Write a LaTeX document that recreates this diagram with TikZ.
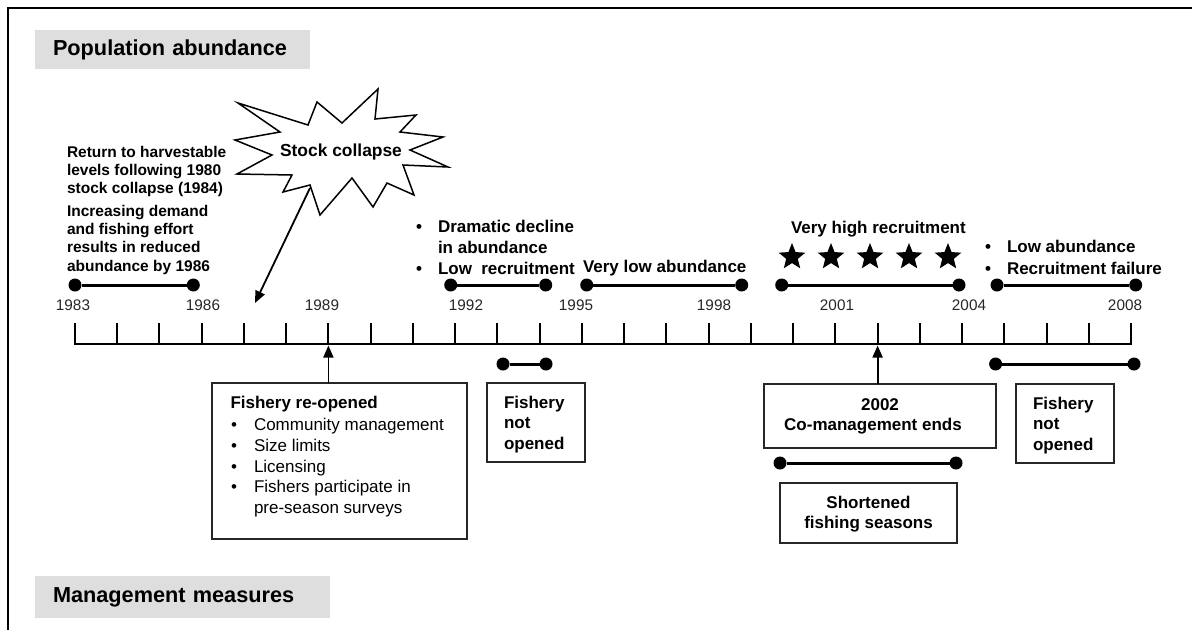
\documentclass[tikz,border=0pt]{standalone}
\usepackage{fontspec}
\setmainfont{Liberation Sans}
\usetikzlibrary{arrows.meta,shapes.geometric}
\definecolor{hdrgray}{RGB}{222,222,222}
\begin{document}
\begin{tikzpicture}[x=1pt,y=-1pt,
  every node/.style={inner sep=0pt, outer sep=0pt},
  hdr/.style={fill=hdrgray, anchor=north west, align=left, inner xsep=18pt,
    font=\fontsize{21.7}{25}\selectfont\bfseries},
  small/.style={font=\fontsize{15.5}{18.3}\selectfont\bfseries, align=left},
  txt/.style={font=\fontsize{17}{20.5}\selectfont\bfseries, align=left},
  reg/.style={font=\fontsize{17}{20.8}\selectfont, align=left},
  yr/.style={font=\fontsize{15.3}{18}\selectfont, anchor=base, text=black!85},
  mbox/.style={draw=black!85, line width=1.2pt, fill=white, anchor=north west},
  bdot/.style={circle, fill=black, minimum size=13pt, inner sep=0pt},
  bar/.style={line width=3pt},
  arr/.style={line width=1.8pt, -{Triangle[length=12pt,width=10pt]}},
  starshape/.style={star, star points=5, star point ratio=2.3, fill=black, minimum size=28pt, inner sep=0pt}
]
\useasboundingbox (0,0) rectangle (1192,630);
% frame
\draw[line width=2pt] (8,630) -- (8,8) -- (1192,8);

% headers
\node[hdr, minimum width=275pt, minimum height=39pt, text width=239pt] (popH) at (35,30) {Population abundance};
\node[hdr, minimum width=295pt, minimum height=42pt, text width=259pt] (mgmtH) at (35,576) {Management measures};

% starburst
\draw[line width=1.5pt, line join=miter, fill=white]
  (238,103) -- (308,125) -- (317,102) -- (342,123) -- (378,89) -- (375,119)
  -- (416,115) -- (400,132) -- (443,137) -- (410,150) -- (448,167) -- (403,165)
  -- (414,195) -- (387,183) -- (373,207) -- (352,178) -- (320,215) -- (310,185)
  -- (283,192) -- (292,175) -- (237,174) -- (272,155) -- (235,140) -- (280,132) -- cycle;
\node[font=\fontsize{17.4}{20}\selectfont\bfseries, anchor=base] (stock) at (341,156.8) {Stock collapse};
\coordinate (stockFoot) at (310,188);
\coordinate (stockEnd) at (255,303);
\draw[arr] (stockFoot) -- (stockEnd);

% left texts
\node[small, anchor=north west] (ret) at (67,146) {Return to harvestable\\levels following 1980\\stock collapse (1984)};
\node[small, anchor=north west] (inc) at (67,205) {Increasing demand\\and fishing effort\\results in reduced\\abundance by 1986};

% middle / right texts
\node[txt, anchor=base] (b1) at (419,232.8) {\textbullet};
\node[txt, anchor=north west] (dd) at (438,220.4) {Dramatic decline\\in abundance};
\node[txt, anchor=base] (b2) at (419,274.4) {\textbullet};
\node[txt, anchor=base west] (lr) at (438,274.4) {Low\hspace{0.55em}recruitment};
\node[txt, anchor=base west] (vla) at (583,272) {Very low abundance};
\node[txt, anchor=base west] (vhr) at (791,233) {Very high recruitment};
\node[txt, anchor=base] (b3) at (988,252.8) {\textbullet};
\node[txt, anchor=base west] (la) at (1007,252.8) {Low abundance};
\node[txt, anchor=base] (b4) at (988,274) {\textbullet};
\node[txt, anchor=base west] (rf) at (1007,274) {Recruitment failure};

% stars
\foreach \i/\x in {1/792,2/831,3/870,4/909,5/948}
  \node[starshape] (s\i) at (\x,257) {};

% abundance bars
\node[bdot] (p1a) at (75,285) {};   \node[bdot] (p1b) at (193.3,285) {};
\node[bdot] (p2a) at (450.7,285) {}; \node[bdot] (p2b) at (545.7,285) {};
\node[bdot] (p3a) at (586.7,285) {}; \node[bdot] (p3b) at (741.7,285) {};
\node[bdot] (p4a) at (781.7,285) {}; \node[bdot] (p4b) at (959,285) {};
\node[bdot] (p5a) at (997,285) {};   \node[bdot] (p5b) at (1135.7,285) {};
\draw[bar] (p1a) -- (p1b);
\draw[bar] (p2a) -- (p2b);
\draw[bar] (p3a) -- (p3b);
\draw[bar] (p4a) -- (p4b);
\draw[bar] (p5a) -- (p5b);

% year labels
\node[yr] (y1983) at (73,310.5) {1983};
\node[yr] (y1986) at (203,310.5) {1986};
\node[yr] (y1989) at (322,310.5) {1989};
\node[yr] (y1992) at (466,310.5) {1992};
\node[yr] (y1995) at (576,310.5) {1995};
\node[yr] (y1998) at (714,310.5) {1998};
\node[yr] (y2001) at (837,310.5) {2001};
\node[yr] (y2004) at (969,310.5) {2004};
\node[yr] (y2008) at (1125,310.5) {2008};

% axis
\coordinate (axL) at (74,344);
\coordinate (axR) at (1132,344);
\draw[line width=2.5pt] (axL) -- (axR);
\foreach \i in {0,...,25}
  \draw[line width=2pt] (75+\i*42.24,344) -- ++(0,-21);

% management boxes
\node[mbox, minimum width=255pt, minimum height=156pt] (reopen) at (212,383) {};
\node[txt, anchor=base west] (reT) at (230.5,408.8) {Fishery re-opened};
\node[reg, anchor=base] (rb1) at (234,430.1) {\textbullet};
\node[reg, anchor=base west] (ri1) at (254,430.1) {Community management};
\node[reg, anchor=base] (rb2) at (234,451.1) {\textbullet};
\node[reg, anchor=base west] (ri2) at (254,451.1) {Size limits};
\node[reg, anchor=base] (rb3) at (234,472.1) {\textbullet};
\node[reg, anchor=base west] (ri3) at (254,472.1) {Licensing};
\node[reg, anchor=base] (rb4) at (234,492.8) {\textbullet};
\node[reg, anchor=base west] (ri4) at (254,492.8) {Fishers participate in};
\node[reg, anchor=base west] (ri5) at (254,513.4) {pre-season surveys};

\node[mbox, minimum width=98pt, minimum height=79pt] (notop1) at (487,383) {};
\node[txt, anchor=north west] (notop1T) at (504,396) {Fishery\\not\\opened};

\node[mbox, minimum width=98pt, minimum height=79pt] (notop2) at (1016,384) {};
\node[txt, anchor=north west] (notop2T) at (1033,397) {Fishery\\not\\opened};

\node[mbox, minimum width=232pt, minimum height=64pt] (coman) at (764,384) {};
\node[txt, anchor=base] (comanY) at (880,410) {2002};
\node[txt, anchor=base] (comanT) at (873,430.5) {Co-management ends};

\node[mbox, minimum width=177pt, minimum height=60pt] (short) at (780,483) {};
\node[txt, anchor=north, align=center, font=\fontsize{17}{19.5}\selectfont\bfseries] (shortT) at (868.5,496.6) {Shortened\\fishing seasons};

% management bars
\node[bdot] (m1a) at (503,364) {};   \node[bdot] (m1b) at (546,364) {};
\node[bdot] (m2a) at (995.6,364) {}; \node[bdot] (m2b) at (1134,364) {};
\node[bdot] (m3a) at (780,463) {};   \node[bdot] (m3b) at (956,463) {};
\draw[bar] (m1a) -- (m1b);
\draw[bar] (m2a) -- (m2b);
\draw[bar] (m3a) -- (m3b);

% arrows to axis
\coordinate (t1989) at (328.4,345.5);
\coordinate (t2002) at (877.6,345.5);
\draw[arr] (reopen.north -| t1989) -- (t1989);
\draw[arr] (coman.north -| t2002) -- (t2002);
\end{tikzpicture}
\end{document}
